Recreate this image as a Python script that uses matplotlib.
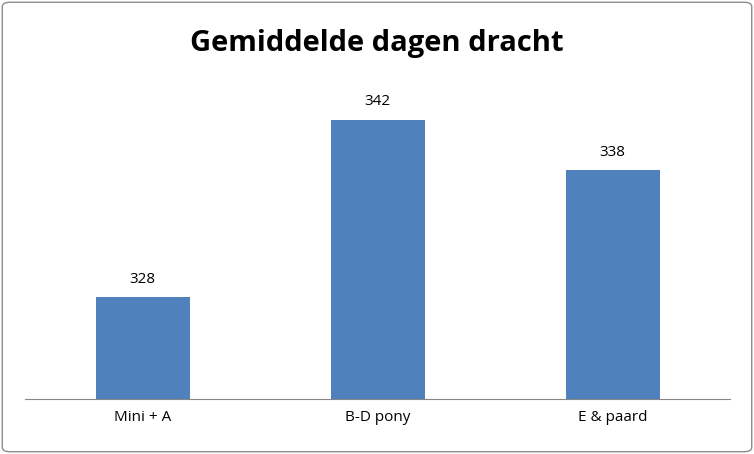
import matplotlib
matplotlib.use("Agg")
import matplotlib.pyplot as plt
from matplotlib.patches import FancyBboxPatch

categories = ["Mini + A", "B-D pony", "E & paard"]
values = [328, 342, 338]

plt.rcParams["font.family"] = "Open Sans"
fig = plt.figure(figsize=(7.54, 4.54), dpi=100)
fig.patches.append(FancyBboxPatch((0.003, 0.005), 0.994, 0.99, boxstyle="round,pad=0,rounding_size=0.01",
                                  transform=fig.transFigure, fill=False, edgecolor="#8c8c8c", linewidth=1))
ax = fig.add_axes([25/754, 55/454, 705/754, 381/454])
x = range(len(categories))
bars = ax.bar(x, values, width=0.4, color="#4f81bd")
ax.set_ylim(320, 350)
ax.set_xlim(-0.5, 2.5)
for xi, v in zip(x, values):
    ax.text(xi, v + 0.8, str(v), ha="center", va="bottom", fontsize=11)
ax.set_xticks(list(x))
ax.set_xticklabels(categories, fontsize=11)
ax.tick_params(axis="x", length=0, pad=8)
ax.set_yticks([])
for s in ["top", "right", "left"]:
    ax.spines[s].set_visible(False)
ax.spines["bottom"].set_color("#868686")
fig.text(0.5, 0.905, "Gemiddelde dagen dracht", ha="center", va="center", fontsize=21, fontweight="bold")
fig.savefig("out.png", dpi=100)
